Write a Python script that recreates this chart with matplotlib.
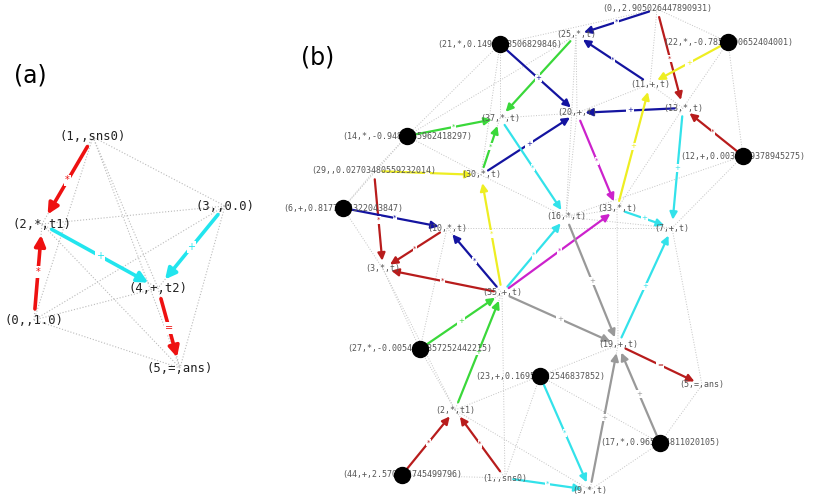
import matplotlib.pyplot as plt
from matplotlib.patches import FancyArrowPatch
from itertools import combinations

# ---- panel (a): small graph ----
a_ids = [0, 1, 2, 3, 4, 5]
a_labels = ['(0,,1.0)', '(1,,sns0)', '(2,*,t1)', '(3,,0.0)', '(4,+,t2)', '(5,=,ans)']
a_x = [34, 93, 42, 225, 158, 180]
a_y = [320, 137, 224, 206, 288, 368]
a_edges = [(1, 2), (0, 2), (2, 4), (3, 4), (4, 5)]
a_ops = ['*', '*', '+', '+', '=']
a_cols = ['#ee1111', '#ee1111', '#22e5ee', '#22e5ee', '#ee1111']

# ---- panel (b): big graph ----
b_ids = [0, 25, 21, 22, 11, 13, 20, 37, 14, 12, 29, 30, 6, 10, 16, 33, 7,
         3, 35, 19, 27, 23, 5, 2, 17, 44, 1, 9]
b_labels = ['(0,,2.905026447890931)', '(25,*,t)', '(21,*,0.1495833506829846)',
            '(22,*,-0.7856290652404001)', '(11,+,t)', '(13,*,t)', '(20,+,t)',
            '(37,*,t)', '(14,*,-0.9486185962418297)', '(12,+,0.0037459378945275)',
            '(29,,0.02703480559232014)', '(30,*,t)', '(6,+,0.8177014322043847)',
            '(10,*,t)', '(16,*,t)', '(33,*,t)', '(7,+,t)', '(3,*,t)', '(35,+,t)',
            '(19,+,t)', '(27,*,-0.0054968857252442215)', '(23,+,0.16952122546837852)',
            '(5,=,ans)', '(2,*,t1)', '(17,*,0.965234811020105)',
            '(44,+,2.570012745499796)', '(1,,sns0)', '(9,*,t)']
b_x = [657, 576, 500, 728, 650, 683, 577, 500, 407, 743, 374, 481, 343, 447,
       566, 617, 672, 383, 502, 618, 420, 540, 702, 455, 660, 402, 505, 590]
b_y = [9, 35, 44, 42, 84, 108, 113, 118, 136, 156, 171, 175, 208, 228,
       217, 209, 228, 269, 293, 345, 349, 376, 385, 410, 443, 475, 478, 490]
b_const = [21, 22, 14, 12, 6, 27, 23, 17, 44]

navy, red, green, cyan, yellow, mag, grey = ('#1414a0', '#b81c1c', '#3ad83a',
                                            '#33e2ea', '#eeee22', '#cc22cc', '#999999')
b_edges = [(0, 25), (11, 25), (0, 13), (12, 13), (25, 37), (14, 37), (30, 37),
           (21, 20), (13, 20), (30, 20), (22, 11), (33, 11), (37, 16), (35, 16),
           (20, 33), (35, 33), (13, 7), (33, 7), (19, 7), (29, 30), (35, 30),
           (29, 3), (10, 3), (35, 3), (6, 10), (35, 10), (35, 19), (16, 19),
           (9, 19), (17, 19), (27, 35), (2, 35), (19, 5), (23, 9), (1, 9),
           (44, 2), (1, 2)]
b_ops = ['*', '*', '*', '*', '*', '*', '*', '+', '+', '+', '+', '+', '*', '*',
         '*', '*', '+', '+', '+', '*', '*', '*', '*', '*', '*', '*', '+', '+',
         '+', '+', '+', '+', '=', '*', '*', '*', '*']
b_cols = [navy, navy, red, red, green, green, green, navy, navy, navy, yellow,
          yellow, cyan, cyan, mag, mag, cyan, cyan, cyan, yellow, yellow, red,
          red, red, navy, navy, grey, grey, grey, grey, green, green, red, cyan,
          cyan, red, red]
b_dotted = [(0, 11), (0, 22), (0, 21), (25, 20), (25, 16), (25, 14), (21, 14),
            (21, 37), (21, 30), (22, 12), (22, 13), (11, 13), (11, 20), (12, 7),
            (12, 16), (20, 16), (37, 30), (37, 20), (14, 29), (14, 30), (14, 6),
            (29, 6), (6, 3), (30, 16), (10, 7), (10, 35), (3, 2), (16, 33),
            (33, 19), (16, 7), (35, 2), (35, 1), (35, 27), (27, 2), (2, 23),
            (2, 1), (2, 9), (44, 1), (23, 1), (23, 17), (9, 17), (17, 5),
            (19, 23), (19, 9), (7, 5), (13, 33), (10, 27), (3, 27)]

fig = plt.figure(figsize=(8.14, 5.0), dpi=100)
ax = fig.add_axes([0, 0, 1, 1])
ax.set_xlim(0, 814)
ax.set_ylim(500, 0)
ax.axis('off')


def arrow(p, q, col, lw, ms, sa, sb):
    ar = FancyArrowPatch(p, q, arrowstyle='-|>', mutation_scale=ms, color=col,
                         lw=lw, shrinkA=sa, shrinkB=sb, zorder=3)
    ax.add_patch(ar)


# panel (a)
apos = {i: (a_x[k], a_y[k]) for k, i in enumerate(a_ids)}
for i, j in combinations(a_ids, 2):
    ax.plot([apos[i][0], apos[j][0]], [apos[i][1], apos[j][1]], ls=':',
            color='#bbbbbb', lw=0.8, zorder=1)
for (s, t), op, c in zip(a_edges, a_ops, a_cols):
    arrow(apos[s], apos[t], c, 2.6, 16, 8, 8)
    mx, my = (apos[s][0] + apos[t][0]) / 2, (apos[s][1] + apos[t][1]) / 2
    ax.text(mx, my, op, color=c, fontsize=7, ha='center', va='center', zorder=4,
            bbox=dict(boxstyle='square,pad=0.1', fc='white', ec='none'))
for k, i in enumerate(a_ids):
    ax.text(a_x[k], a_y[k], a_labels[k], fontsize=8.8, family='DejaVu Sans Mono',
            color='#222222', ha='center', va='center', zorder=5)

# panel (b)
bpos = {i: (b_x[k], b_y[k]) for k, i in enumerate(b_ids)}
for s, t in b_dotted:
    ax.plot([bpos[s][0], bpos[t][0]], [bpos[s][1], bpos[t][1]], ls=':',
            color='#c4c4c4', lw=0.7, zorder=1)
for (s, t), op, c in zip(b_edges, b_ops, b_cols):
    sa = 0 if s in b_const else 6
    arrow(bpos[s], bpos[t], c, 1.6, 11, sa, 6)
    mx, my = (bpos[s][0] + bpos[t][0]) / 2, (bpos[s][1] + bpos[t][1]) / 2
    ax.text(mx, my, op, color=c, fontsize=5, ha='center', va='center', zorder=4,
            bbox=dict(boxstyle='square,pad=0.1', fc='white', ec='none'))
for k, i in enumerate(b_ids):
    ax.text(b_x[k], b_y[k], b_labels[k], fontsize=6, family='DejaVu Sans Mono',
            color='#555555', ha='center', va='center', zorder=5)
    if i in b_const:
        ax.plot(b_x[k], b_y[k], 'o', color='black', ms=11.5, zorder=6)

ax.text(30, 75, '(a)', fontsize=17, ha='center', va='center')
ax.text(318, 57, '(b)', fontsize=17, ha='center', va='center')

fig.savefig('out.png', dpi=100)
